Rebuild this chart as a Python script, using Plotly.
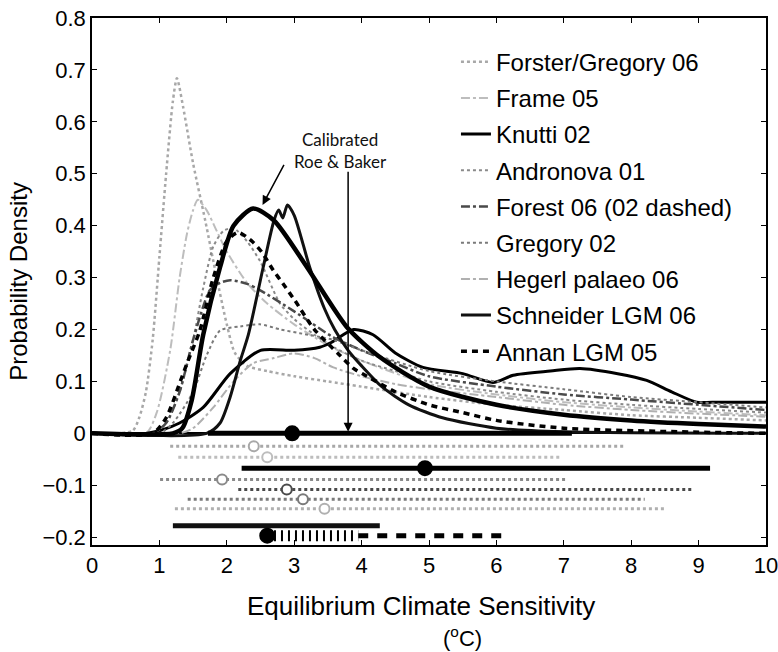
import plotly.graph_objects as go

# ---- probability density curves (x in degC, y = density) ----
fg06_x = [0, 0.6, 0.7, 0.8, 0.9, 1.0, 1.1, 1.2, 1.26, 1.35, 1.5, 1.68, 1.85, 2.0, 2.12, 2.3, 2.6, 3.0, 3.5, 4, 5, 6, 7, 8, 9, 10]
fg06_y = [0, 0.005, 0.03, 0.08, 0.18, 0.34, 0.5, 0.64, 0.684, 0.63, 0.52, 0.41, 0.3, 0.21, 0.155, 0.13, 0.12, 0.11, 0.1, 0.09, 0.07, 0.055, 0.045, 0.035, 0.03, 0.025]

frame05_x = [0, 0.8, 0.96, 1.16, 1.3, 1.41, 1.5, 1.57, 1.7, 1.85, 2.0, 2.3, 2.6, 3.0, 3.5, 4, 5, 6, 7, 8, 9, 10]
frame05_y = [0, 0, 0.04, 0.16, 0.3, 0.385, 0.43, 0.45, 0.43, 0.39, 0.35, 0.29, 0.25, 0.21, 0.17, 0.14, 0.095, 0.075, 0.06, 0.05, 0.042, 0.035]

knutti02_x = [0, 0.8, 1.0, 1.3, 1.65, 2.05, 2.5, 3.0, 3.38, 3.55, 3.88, 4.17, 4.5, 4.91, 5.5, 5.95, 6.25, 6.8, 7.24, 7.8, 8.23, 8.6, 8.97, 9.2, 10]
knutti02_y = [0, 0, 0.005, 0.02, 0.05, 0.115, 0.16, 0.16, 0.166, 0.175, 0.2, 0.19, 0.155, 0.127, 0.115, 0.098, 0.112, 0.12, 0.125, 0.115, 0.102, 0.08, 0.06, 0.06, 0.06]

andronova01_x = [0, 0.9, 1.1, 1.3, 1.5, 1.65, 1.8, 1.95, 2.1, 2.3, 2.5, 2.79, 3.0, 3.3, 3.6, 4, 4.5, 5, 6, 7, 8, 9, 10]
andronova01_y = [0, 0, 0.02, 0.08, 0.18, 0.28, 0.36, 0.39, 0.395, 0.37, 0.33, 0.25, 0.22, 0.19, 0.165, 0.14, 0.12, 0.1, 0.08, 0.065, 0.055, 0.047, 0.04]

forest06_x = [0, 0.9, 1.1, 1.3, 1.5, 1.75, 1.9, 2.05, 2.3, 2.49, 3.0, 3.58, 4, 4.5, 5, 6, 7, 8, 9, 10]
forest06_y = [0, 0, 0.02, 0.08, 0.18, 0.276, 0.29, 0.295, 0.288, 0.276, 0.235, 0.185, 0.16, 0.135, 0.11, 0.09, 0.075, 0.065, 0.055, 0.045]

gregory02_x = [0, 1.0, 1.2, 1.5, 1.7, 1.9, 2.2, 2.49, 2.8, 3.08, 3.58, 4, 5, 6, 7, 8, 9, 10]
gregory02_y = [0, 0, 0.02, 0.08, 0.15, 0.198, 0.206, 0.21, 0.2, 0.193, 0.18, 0.16, 0.12, 0.1, 0.085, 0.07, 0.06, 0.05]

hegerl06_x = [0, 1.3, 1.5, 1.8, 2.1, 2.39, 2.7, 2.99, 3.3, 3.58, 4, 4.5, 5, 6, 7, 8, 9, 10]
hegerl06_y = [0, 0, 0.01, 0.05, 0.1, 0.135, 0.145, 0.154, 0.145, 0.127, 0.11, 0.095, 0.085, 0.07, 0.055, 0.045, 0.038, 0.032]

schneider06_x = [0, 1.7, 1.9, 2.05, 2.2, 2.32, 2.54, 2.7, 2.77, 2.83, 2.9, 3.0, 3.23, 3.45, 3.6, 3.8, 4.0, 4.3, 4.7, 5.2, 6, 7, 10]
schneider06_y = [0, 0, 0.02, 0.07, 0.14, 0.19, 0.32, 0.41, 0.43, 0.415, 0.44, 0.42, 0.32, 0.24, 0.2, 0.16, 0.13, 0.09, 0.055, 0.03, 0.01, 0.003, 0]

annan05_x = [0, 0.9, 1.1, 1.31, 1.41, 1.6, 1.8, 2.0, 2.17, 2.39, 2.52, 2.69, 2.83, 3.01, 3.3, 3.65, 3.88, 4.08, 4.5, 5, 5.5, 6, 7, 10]
annan05_y = [0, 0, 0.03, 0.10, 0.135, 0.198, 0.3, 0.37, 0.387, 0.368, 0.349, 0.314, 0.289, 0.256, 0.2, 0.154, 0.125, 0.11, 0.08, 0.055, 0.04, 0.025, 0.01, 0]

roebaker_x = [0, 1.2, 1.34, 1.48, 1.65, 1.9, 2.1, 2.39, 2.7, 3.19, 3.78, 4.27, 5, 6, 7, 8, 9, 10]
roebaker_y = [0, 0, 0.01, 0.064, 0.19, 0.32, 0.4, 0.433, 0.41, 0.32, 0.205, 0.147, 0.09, 0.055, 0.036, 0.025, 0.018, 0.013]

# ---- 5-95% ranges drawn below zero (level, low, high, central marker) ----
range_names = ["Calibrated Roe & Baker", "Forster/Gregory 06", "Frame 05", "Knutti 02",
               "Andronova 01", "Forest 06 (02 dashed)", "Gregory 02", "Hegerl palaeo 06",
               "Schneider LGM 06", "Annan LGM 05"]
range_level = [0.0, -0.025, -0.046, -0.067, -0.089, -0.108, -0.127, -0.145, -0.178, -0.197]
range_lo = [1.72, 1.16, 1.28, 2.22, 1.01, 2.17, 1.42, 1.23, 1.2, 2.7]
range_hi = [7.12, 7.9, 6.95, 9.17, 7.05, 8.9, 8.2, 8.5, 4.27, 6.1]
range_mark = [2.97, 2.4, 2.6, 4.94, 1.93, 2.89, 3.13, 3.45, None, 2.6]
annan_hatch_end = 3.95

# ---- axis ticks ----
x_ticks = list(range(0, 11))
y_ticks = [0.8, 0.7, 0.6, 0.5, 0.4, 0.3, 0.2, 0.1, 0.0, -0.1, -0.2]
y_ticktext = ["0.8", "0.7", "0.6", "0.5", "0.4", "0.3", "0.2", "0.1", "0", "\u22120.1", "\u22120.2"]

series = [
    ("Forster/Gregory 06", fg06_x, fg06_y, dict(color="#a8a8a8", width=2.5, dash="dot")),
    ("Frame 05", frame05_x, frame05_y, dict(color="#bdbdbd", width=2, dash="dashdot")),
    ("Knutti 02", knutti02_x, knutti02_y, dict(color="#000000", width=3, dash="solid")),
    ("Andronova 01", andronova01_x, andronova01_y, dict(color="#8a8a8a", width=2, dash="dot")),
    ("Forest 06 (02 dashed)", forest06_x, forest06_y, dict(color="#4a4a4a", width=2.5, dash="dashdot")),
    ("Gregory 02", gregory02_x, gregory02_y, dict(color="#7a7a7a", width=2, dash="dot")),
    ("Hegerl palaeo 06", hegerl06_x, hegerl06_y, dict(color="#b0b0b0", width=2, dash="dashdot")),
    ("Schneider LGM 06", schneider06_x, schneider06_y, dict(color="#111111", width=3, dash="solid")),
    ("Annan LGM 05", annan05_x, annan05_y, dict(color="#000000", width=3.5, dash="6px,5px")),
]
styles = {name: st for name, _, _, st in series}
styles["Calibrated Roe & Baker"] = dict(color="#000000", width=5, dash="solid")

fig = go.Figure()

for i, (name, xs, ys, st) in enumerate(series):
    fig.add_trace(go.Scatter(
        x=xs, y=ys, mode="lines", name=name, legendgroup=f"g{i}",
        line=dict(color=st["color"], width=st["width"], dash=st["dash"],
                  shape="spline", smoothing=0.7),
        hoverinfo="skip",
    ))

fig.add_trace(go.Scatter(
    x=roebaker_x, y=roebaker_y, mode="lines", showlegend=False,
    line=dict(color="#000000", width=4.5, shape="spline", smoothing=0.7),
    hoverinfo="skip",
))

# range bars
for name, lev, lo, hi, mk in zip(range_names, range_level, range_lo, range_hi, range_mark):
    st = styles[name]
    dark = st["color"] in ("#000000", "#111111")
    if name == "Annan LGM 05":
        fig.add_trace(go.Scatter(x=[lo, annan_hatch_end], y=[lev, lev], mode="lines",
                                 showlegend=False, hoverinfo="skip",
                                 line=dict(color="#000000", width=11, dash="2px,5px")))
        fig.add_trace(go.Scatter(x=[annan_hatch_end, hi], y=[lev, lev], mode="lines",
                                 showlegend=False, hoverinfo="skip",
                                 line=dict(color="#000000", width=5, dash="10px,9px")))
    else:
        fig.add_trace(go.Scatter(x=[lo, hi], y=[lev, lev], mode="lines",
                                 showlegend=False, hoverinfo="skip",
                                 line=dict(color=st["color"], width=5 if dark else 3,
                                           dash="solid" if dark else "dot")))
    if mk is not None:
        fig.add_trace(go.Scatter(x=[mk], y=[lev], mode="markers", showlegend=False,
                                 hoverinfo="skip",
                                 marker=dict(symbol="circle", size=14 if dark else 10,
                                             color=st["color"] if dark else "#ffffff",
                                             line=dict(color=st["color"] if not dark else "#000000",
                                                       width=2))))

axis_font = dict(family="Liberation Sans, Arial, sans-serif", size=22, color="#000000")

fig.update_layout(
    width=778, height=652,
    margin=dict(l=92, r=12, t=18, b=107),
    paper_bgcolor="#ffffff", plot_bgcolor="#ffffff",
    font=axis_font,
    showlegend=True,
    legend=dict(
        x=0.54, y=0.959, xanchor="left", yanchor="top",
        bgcolor="rgba(0,0,0,0)", borderwidth=0,
        font=dict(family="Liberation Sans, Arial, sans-serif", size=24, color="#000000"),
        traceorder="grouped", tracegroupgap=2, itemwidth=30,
    ),
    xaxis=dict(range=[0, 10], tickvals=x_ticks, ticktext=[str(v) for v in x_ticks],
               ticks="inside", ticklen=5, tickcolor="#000000", automargin=False,
               ticklabeloverflow="allow",
               showline=True, linecolor="#000000", linewidth=1.5, mirror="ticks",
               showgrid=False, zeroline=False, tickfont=axis_font),
    yaxis=dict(range=[-0.215, 0.8], tickvals=y_ticks, ticktext=y_ticktext,
               ticks="inside", ticklen=5, tickcolor="#000000", automargin=False,
               showline=True, linecolor="#000000", linewidth=1.5, mirror="ticks",
               showgrid=False, zeroline=True, zerolinecolor="#000000", zerolinewidth=2,
               tickfont=axis_font,
               title=dict(text="Probability Density", standoff=8,
                          font=dict(family="Liberation Sans, Arial, sans-serif", size=24))),
)

# axis title (two lines)
fig.add_annotation(xref="paper", yref="paper", x=0.488, y=-0.116, yanchor="middle",
                   text="Equilibrium Climate Sensitivity", showarrow=False,
                   font=dict(family="Liberation Sans, Arial, sans-serif", size=26))
fig.add_annotation(xref="paper", yref="paper", x=0.549, y=-0.1745, yanchor="middle",
                   text="(<sup>o</sup>C)", showarrow=False,
                   font=dict(family="Liberation Sans, Arial, sans-serif", size=22))

# Roe & Baker label and arrows
fig.add_annotation(x=3.68, y=0.545, xref="x", yref="y", text="Calibrated<br>Roe &amp; Baker",
                   showarrow=False, align="center",
                   font=dict(family="Lato, Open Sans, sans-serif", size=17, color="#111111"))
fig.add_annotation(x=2.53, y=0.44, ax=2.86, ay=0.52, xref="x", yref="y", axref="x", ayref="y",
                   text="", showarrow=True, arrowhead=2, arrowsize=1.2, arrowwidth=1.5,
                   arrowcolor="#000000")
fig.add_annotation(x=3.8, y=0.003, ax=3.8, ay=0.507, xref="x", yref="y", axref="x", ayref="y",
                   text="", showarrow=True, arrowhead=2, arrowsize=1.2, arrowwidth=1.5,
                   arrowcolor="#000000")

fig.write_html("out.html")
